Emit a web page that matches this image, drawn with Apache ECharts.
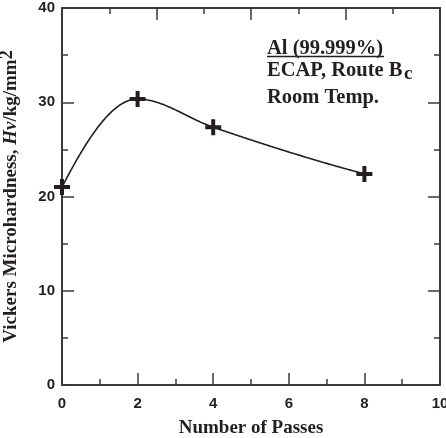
<!DOCTYPE html>
<html>
<head>
<meta charset="utf-8">
<script src="https://cdn.jsdelivr.net/npm/echarts@6/dist/echarts.min.js"></script>
<style>
html,body{margin:0;padding:0;background:#fff;}
#chart{width:446px;height:438px;}
</style>
</head>
<body>
<div id="chart"></div>
<script>
// Data
const passes = [0, 2, 4, 8];
const hardness = [21.0, 30.35, 27.35, 22.4];
const xTicks = [0, 2, 4, 6, 8, 10];
const yTicks = [0, 10, 20, 30, 40];
const annotationLines = ['Al (99.999%)', 'ECAP, Route B', 'Room Temp.'];
const subscript = 'c';

const ink = '#231f20';
const axisCol = '#3a3a3a';
const serif = '"Liberation Serif", "Times New Roman", serif';
const sans = '"Liberation Sans", Arial, sans-serif';

// monotone piecewise cubic (PCHIP) through the data (rendering helper)
function pchip(xs, ys) {
  const n = xs.length;
  const h = [], s = [];
  for (let i = 0; i < n - 1; i++) {
    h.push(xs[i + 1] - xs[i]);
    s.push((ys[i + 1] - ys[i]) / h[i]);
  }
  const d = new Array(n).fill(0);
  for (let i = 1; i < n - 1; i++) {
    if (s[i - 1] * s[i] <= 0) { d[i] = 0; continue; }
    const w1 = 2 * h[i] + h[i - 1], w2 = h[i] + 2 * h[i - 1];
    d[i] = (w1 + w2) / (w1 / s[i - 1] + w2 / s[i]);
  }
  function endSlope(h0, h1, s0, s1) {
    let dd = ((2 * h0 + h1) * s0 - h0 * s1) / (h0 + h1);
    if (Math.sign(dd) !== Math.sign(s0)) dd = 0;
    else if (Math.sign(s0) !== Math.sign(s1) && Math.abs(dd) > Math.abs(3 * s0)) dd = 3 * s0;
    return dd;
  }
  d[0] = endSlope(h[0], h[1], s[0], s[1]);
  d[n - 1] = endSlope(h[n - 2], h[n - 3], s[n - 2], s[n - 3]);
  return function (x) {
    let k = 0;
    while (k < n - 2 && x > xs[k + 1]) k++;
    const t = (x - xs[k]) / h[k];
    const t2 = t * t, t3 = t2 * t;
    return (2 * t3 - 3 * t2 + 1) * ys[k] + (t3 - 2 * t2 + t) * h[k] * d[k]
      + (-2 * t3 + 3 * t2) * ys[k + 1] + (t3 - t2) * h[k] * d[k + 1];
  };
}
const curve = pchip(passes, hardness);

const chart = echarts.init(document.getElementById('chart'));
const plusPath = 'path://M6,0H10V6H16V10H10V16H6V10H0V6H6Z';

function frameAxis(extra) {
  return Object.assign({
    type: 'value',
    axisLine: {show: true, onZero: false, lineStyle: {color: axisCol, width: 2}},
    axisTick: {show: true, inside: true, length: 12, lineStyle: {color: axisCol, width: 1.5}},
    minorTick: {show: true, splitNumber: 2, length: 6, lineStyle: {color: axisCol, width: 1.5}},
    splitLine: {show: false},
    axisLabel: {show: false}
  }, extra);
}

chart.setOption({
  animation: false,
  backgroundColor: '#fff',
  grid: {left: 62, right: 6, top: 8, bottom: 53, containLabel: false, outerBoundsMode: 'none'},
  xAxis: [
    frameAxis({
      min: xTicks[0], max: xTicks[xTicks.length - 1], interval: 2, position: 'bottom',
      axisLabel: {show: true, color: ink, fontFamily: sans, fontWeight: 'bold', fontSize: 15, margin: 11},
      name: 'Number of Passes', nameLocation: 'middle', nameGap: 34,
      nameTextStyle: {color: ink, fontFamily: serif, fontWeight: 'bold', fontSize: 19}
    }),
    frameAxis({min: 0, max: 8, interval: 2, position: 'top'})
  ],
  yAxis: [
    frameAxis({
      min: yTicks[0], max: yTicks[yTicks.length - 1], interval: 10, position: 'left',
      axisLabel: {show: true, color: ink, fontFamily: sans, fontWeight: 'bold', fontSize: 15, margin: 7},
      name: 'Vickers Microhardness, {i|Hv}/kg/mm{s|2}', nameLocation: 'middle', nameGap: 37,
      nameTextStyle: {color: ink, fontFamily: serif, fontWeight: 'bold', fontSize: 19,
        rich: {
          i: {fontFamily: serif, fontWeight: 'bold', fontStyle: 'italic', fontSize: 19, color: ink},
          s: {fontFamily: serif, fontWeight: 'bold', fontSize: 18, color: ink, padding: [0, 0, 9, 0]}
        }}
    }),
    frameAxis({min: yTicks[0], max: yTicks[yTicks.length - 1], interval: 10, position: 'right'})
  ],
  series: [{
    type: 'custom',
    xAxisIndex: 0, yAxisIndex: 0,
    data: passes.map((p, i) => [p, hardness[i]]),
    encode: {x: 0, y: 1},
    renderItem: function (params, api) {
      if (params.dataIndex !== 0) return null;
      const x0 = passes[0], x1 = passes[passes.length - 1];
      const pts = [];
      const N = 240;
      for (let j = 0; j <= N; j++) {
        const x = x0 + (x1 - x0) * j / N;
        pts.push(api.coord([x, curve(x)]));
      }
      return {type: 'polyline', shape: {points: pts, smooth: 0},
        style: {stroke: ink, lineWidth: 1.6, fill: null}, z2: 1};
    },
    z: 2
  }, {
    type: 'scatter',
    xAxisIndex: 0, yAxisIndex: 0,
    data: passes.map((p, i) => [p, hardness[i]]),
    symbol: plusPath,
    symbolSize: 16,
    itemStyle: {color: ink, opacity: 1},
    clip: false,
    z: 3
  }],
  graphic: [
    {type: 'text', left: 267, top: 38, style: {text: annotationLines[0], font: 'bold 20.5px ' + serif, fill: ink}},
    {type: 'line', shape: {x1: 267, y1: 56.5, x2: 384, y2: 56.5}, style: {stroke: ink, lineWidth: 1.5}},
    {type: 'text', left: 267, top: 60, style: {text: annotationLines[1], font: 'bold 20.5px ' + serif, fill: ink}},
    {type: 'text', left: 404, top: 65, style: {text: subscript, font: 'bold 19px ' + serif, fill: ink}},
    {type: 'text', left: 267, top: 87, style: {text: annotationLines[2], font: 'bold 20.5px ' + serif, fill: ink}}
  ]
});
</script>
</body>
</html>
